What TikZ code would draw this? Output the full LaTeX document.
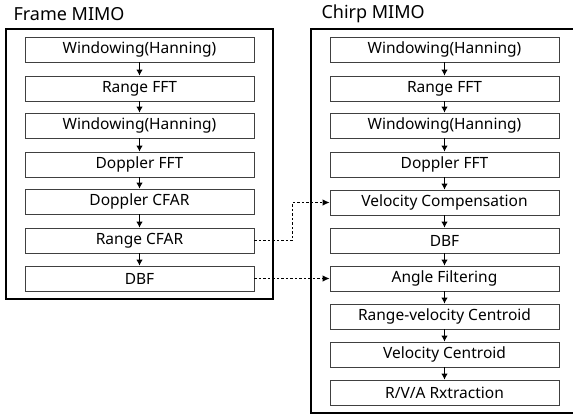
\documentclass[tikz,border=0pt]{standalone}
\usepackage{fontspec}
\setmainfont{Noto Sans}
\usetikzlibrary{arrows.meta}
\tikzset{
	stage/.style={draw=black!75, line width=0.9pt, minimum width=229pt, minimum height=25pt, inner sep=0pt, font=\fontsize{15.5}{17}\selectfont},
	flow/.style={line width=0.9pt, -{Latex[length=6pt,width=6.5pt]}},
	link/.style={line width=0.9pt, dashed, dash pattern=on 2.5pt off 2pt, -{Latex[length=7pt,width=6.5pt]}},
}

\begin{document}
\begin{tikzpicture}[x=1pt, y=-1pt]
			%%%%% START %%%%%
			\useasboundingbox (0, 0) rectangle (573, 416);
			
			% outer frames
			\draw[line width=1.5pt] (6, 29) rectangle (273, 299);
			\draw[line width=1.5pt] (311, 29) rectangle (580, 413);
			\node[anchor=west, font=\fontsize{18}{20}\selectfont] (frametitle) at (10, 14) {Frame MIMO};
			\node[anchor=west, font=\fontsize{18}{20}\selectfont] (chirptitle) at (318, 14) {Chirp MIMO};
			
			% frame MIMO chain
			\node[stage] (fwin1) at (139.5, 49.5) {Windowing(Hanning)};
			\node[stage] (frfft) at (139.5, 88.5) {Range FFT};
			\node[stage] (fwin2) at (139.5, 125.5) {Windowing(Hanning)};
			\node[stage] (fdfft) at (139.5, 164.5) {Doppler FFT};
			\node[stage] (fdcfar) at (139.5, 201.5) {Doppler CFAR};
			\node[stage] (frcfar) at (139.5, 240.5) {Range CFAR};
			\node[stage] (fdbf) at (139.5, 278.5) {DBF};
			
			\draw[flow] (fwin1) -- (frfft);
			\draw[flow] (frfft) -- (fwin2);
			\draw[flow] (fwin2) -- (fdfft);
			\draw[flow] (fdfft) -- (fdcfar);
			\draw[flow] (fdcfar) -- (frcfar);
			\draw[flow] (frcfar) -- (fdbf);
			
			% chirp MIMO chain
			\node[stage] (cwin1) at (444.5, 49.5) {Windowing(Hanning)};
			\node[stage] (crfft) at (444.5, 88.5) {Range FFT};
			\node[stage] (cwin2) at (444.5, 125.5) {Windowing(Hanning)};
			\node[stage] (cdfft) at (444.5, 164.5) {Doppler FFT};
			\node[stage] (cvcomp) at (444.5, 202.5) {Velocity Compensation};
			\node[stage] (cdbf) at (444.5, 240.5) {DBF};
			\node[stage] (cangle) at (444.5, 278.5) {Angle Filtering};
			\node[stage] (crvcen) at (444.5, 316.5) {Range-velocity Centroid};
			\node[stage] (cvcen) at (444.5, 354.5) {Velocity Centroid};
			\node[stage] (crva) at (444.5, 392.5) {R/V/A Rxtraction};
			
			\draw[flow] (cwin1) -- (crfft);
			\draw[flow] (crfft) -- (cwin2);
			\draw[flow] (cwin2) -- (cdfft);
			\draw[flow] (cdfft) -- (cvcomp);
			\draw[flow] (cvcomp) -- (cdbf);
			\draw[flow] (cdbf) -- (cangle);
			\draw[flow] (cangle) -- (crvcen);
			\draw[flow] (crvcen) -- (cvcen);
			\draw[flow] (cvcen) -- (crva);
			
			% hand-over between the two chains
			\draw[link] (frcfar.east) -- ++(38, 0) |- (cvcomp.west);
			\draw[link] (fdbf.east) -- (cangle.west);
			
			%%%%% END %%%%%
		\end{tikzpicture}
\end{document}
